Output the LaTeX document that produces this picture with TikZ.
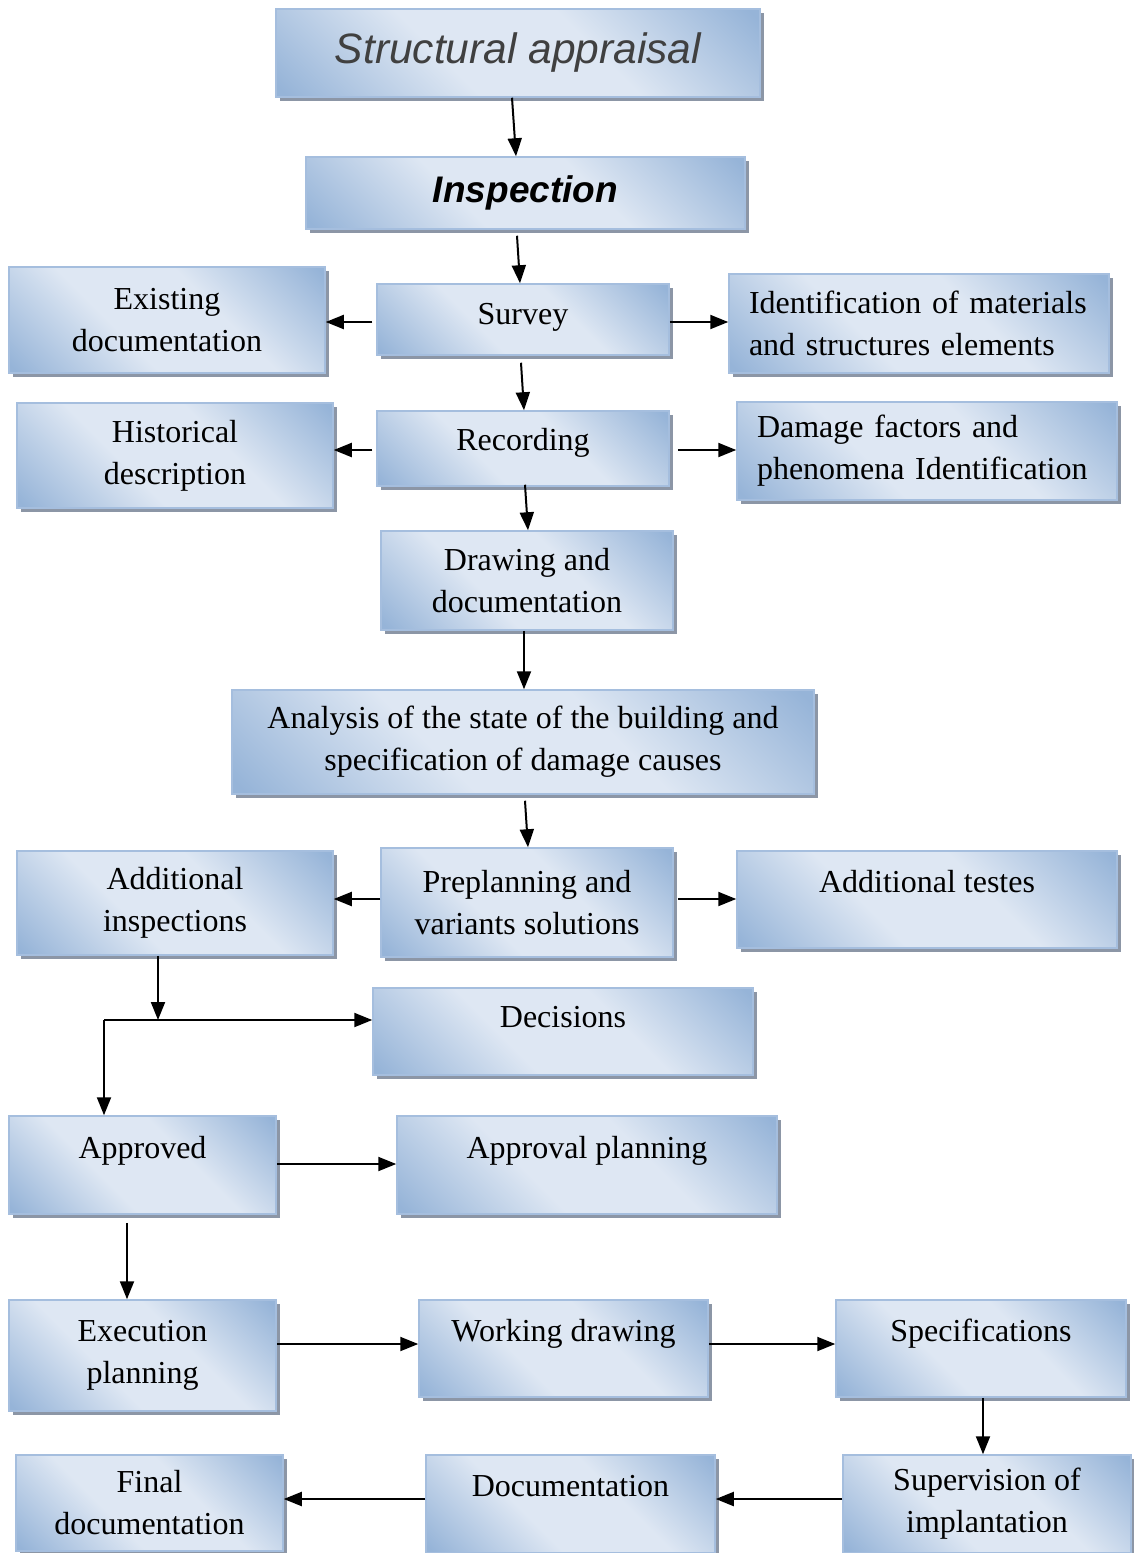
\documentclass[tikz,border=0pt]{standalone}
\usepackage{fontspec}
\setmainfont{Liberation Serif}
\newfontfamily\headfont{Liberation Sans}
\usepackage{tikz}
\usetikzlibrary{arrows.meta,positioning,shadows}

\definecolor{boxblue}{RGB}{150,180,216}
\definecolor{boxlight}{RGB}{222,231,243}
\definecolor{boxedge}{RGB}{165,190,222}
\definecolor{shadowgray}{RGB}{140,150,166}

\pgfdeclareverticalshading{boxshade}{100bp}{color(0bp)=(boxblue); color(16bp)=(boxblue);
  color(40bp)=(boxlight); color(60bp)=(boxlight); color(84bp)=(boxblue); color(100bp)=(boxblue)}

\begin{document}
\begin{tikzpicture}[
  x=1pt,y=-1pt,
  stepbox/.style={rectangle,draw=boxedge,line width=1.5pt,
              shading=boxshade,shading angle=-45,
              drop shadow={shadow xshift=4pt,shadow yshift=-4pt,fill=shadowgray,opacity=1},
              inner sep=0pt,align=center,
              font=\fontsize{32}{42}\selectfont},
  oneline/.style={text height=21pt,text depth=#1},
  oneline/.default=6pt,
  arr/.style={-{Triangle[length=18pt,width=14pt]},line width=2pt}
]
\useasboundingbox (0,0) rectangle (1134,1553);

% top of the chain
\node[stepbox,minimum width=484pt,minimum height=88pt,
      font=\fontsize{42.5}{48}\headfont\itshape,text=black!75] (appraisal) at (518,53) {Structural appraisal};
\node[stepbox,minimum width=439pt,minimum height=72pt,
      font=\fontsize{37}{44}\headfont\bfseries\itshape] (inspection) at (525.5,193) {Inspection};
\node[stepbox,oneline=12pt,minimum width=292pt,minimum height=71pt] (survey) at (523,319.5) {Survey};
\node[stepbox,minimum width=316pt,minimum height=106pt] (existing) at (167,320) {Existing\\documentation};
\node[stepbox,minimum width=380pt,minimum height=99pt,align=left,text width=340pt] (ident) at (919,323.5)
  {Identification of materials\\and structures elements};
\node[stepbox,oneline=17pt,minimum width=292pt,minimum height=75pt] (recording) at (523,448.5) {Recording};
\node[stepbox,minimum width=316pt,minimum height=105pt] (historic) at (175,455.5) {Historical\\description};
\node[stepbox,minimum width=380pt,minimum height=98pt,align=left,text width=340pt] (damage) at (927,451)
  {Damage factors and\\phenomena Identification};
\node[stepbox,minimum width=292pt,minimum height=99pt] (drawing) at (527,580.5) {Drawing and\\documentation};
\node[stepbox,minimum width=582pt,minimum height=104pt] (analysis) at (523,742)
  {Analysis of the state of the building and\\specification of damage causes};

% solutions
\node[stepbox,minimum width=292pt,minimum height=109pt] (preplan) at (527,902.5) {Preplanning and\\variants solutions};
\node[stepbox,minimum width=316pt,minimum height=104pt] (addinsp) at (175,903) {Additional\\inspections};
\node[stepbox,oneline=36pt,minimum width=380pt,minimum height=97pt] (addtest) at (927,899.5) {Additional testes};
\node[stepbox,oneline=29pt,minimum width=380pt,minimum height=87pt] (decisions) at (563,1031.5) {Decisions};
\node[stepbox,oneline=35pt,minimum width=267pt,minimum height=98pt] (approved) at (142.5,1165) {Approved};
\node[stepbox,oneline=35pt,minimum width=380pt,minimum height=98pt] (apprplan) at (587,1165) {Approval planning};

% execution
\node[stepbox,minimum width=267pt,minimum height=111pt] (execplan) at (142.5,1355.5) {Execution\\planning};
\node[stepbox,oneline=35pt,minimum width=289pt,minimum height=97pt] (working) at (563.5,1348.5) {Working drawing};
\node[stepbox,oneline=35pt,minimum width=290pt,minimum height=97pt] (specs) at (981,1348.5) {Specifications};
\node[stepbox,minimum width=288pt,minimum height=98pt] (supervision) at (987,1504) {Supervision of\\implantation};
\node[stepbox,oneline=36pt,minimum width=289pt,minimum height=98pt] (documentation) at (570.5,1504) {Documentation};
\node[stepbox,minimum width=267pt,minimum height=96pt] (final) at (149.5,1503) {Final\\documentation};

\coordinate (split) at (158,1020);
\coordinate (corner) at (104,1020);

\draw[arr] ([xshift=-6pt]appraisal.south) -- ([xshift=-9.5pt]inspection.north);
\draw[arr] ([xshift=-8.5pt,yshift=-6pt]inspection.south) -- ([xshift=-3pt]survey.north);
\draw[arr] ([xshift=-4pt,yshift=-2.5pt]survey.west) -- ([yshift=-2pt]existing.east);
\draw[arr] ([yshift=-2.5pt]survey.east) -- ([yshift=1.5pt]ident.west);
\draw[arr] ([xshift=-2pt,yshift=-7pt]survey.south) -- ([xshift=1pt]recording.north);
\draw[arr] ([xshift=-4pt,yshift=-1.5pt]recording.west) -- ([yshift=5.5pt]historic.east);
\draw[arr] ([xshift=8pt,yshift=-1.5pt]recording.east) -- ([yshift=1pt]damage.west);
\draw[arr] ([xshift=2pt,yshift=2pt]recording.south) -- ([xshift=1pt]drawing.north);
\draw[arr] ([xshift=-3pt]drawing.south) -- ([xshift=1pt]analysis.north);
\draw[arr] ([xshift=2pt,yshift=-6pt]analysis.south) -- ([xshift=1pt]preplan.north);
\draw[arr] ([yshift=3.5pt]preplan.west) -- ([yshift=4pt]addinsp.east);
\draw[arr] ([xshift=4pt,yshift=3.5pt]preplan.east) -- ([yshift=0.5pt]addtest.west);

% branching below the additional inspections
\draw[arr] (addinsp.south -| split) -- (split);
\draw[arr] (corner) -- ([yshift=11.5pt]decisions.west);
\draw[arr] (corner) -- (corner |- approved.north);
\draw[arr] ([yshift=1pt]approved.east) -- ([yshift=1pt]apprplan.west);
\draw[arr] ([xshift=-15.5pt,yshift=-8pt]approved.south) -- ([xshift=-15.5pt]execplan.north);
\draw[arr] ([yshift=11.5pt]execplan.east) -- ([yshift=4.5pt]working.west);
\draw[arr] ([yshift=4.5pt]working.east) -- ([yshift=4.5pt]specs.west);
\draw[arr] ([xshift=2pt]specs.south) -- ([xshift=-4pt]supervision.north);
\draw[arr] ([yshift=5pt]supervision.west) -- ([yshift=5pt]documentation.east);
\draw[arr] ([yshift=5pt]documentation.west) -- ([yshift=4pt]final.east);
\end{tikzpicture}
\end{document}
